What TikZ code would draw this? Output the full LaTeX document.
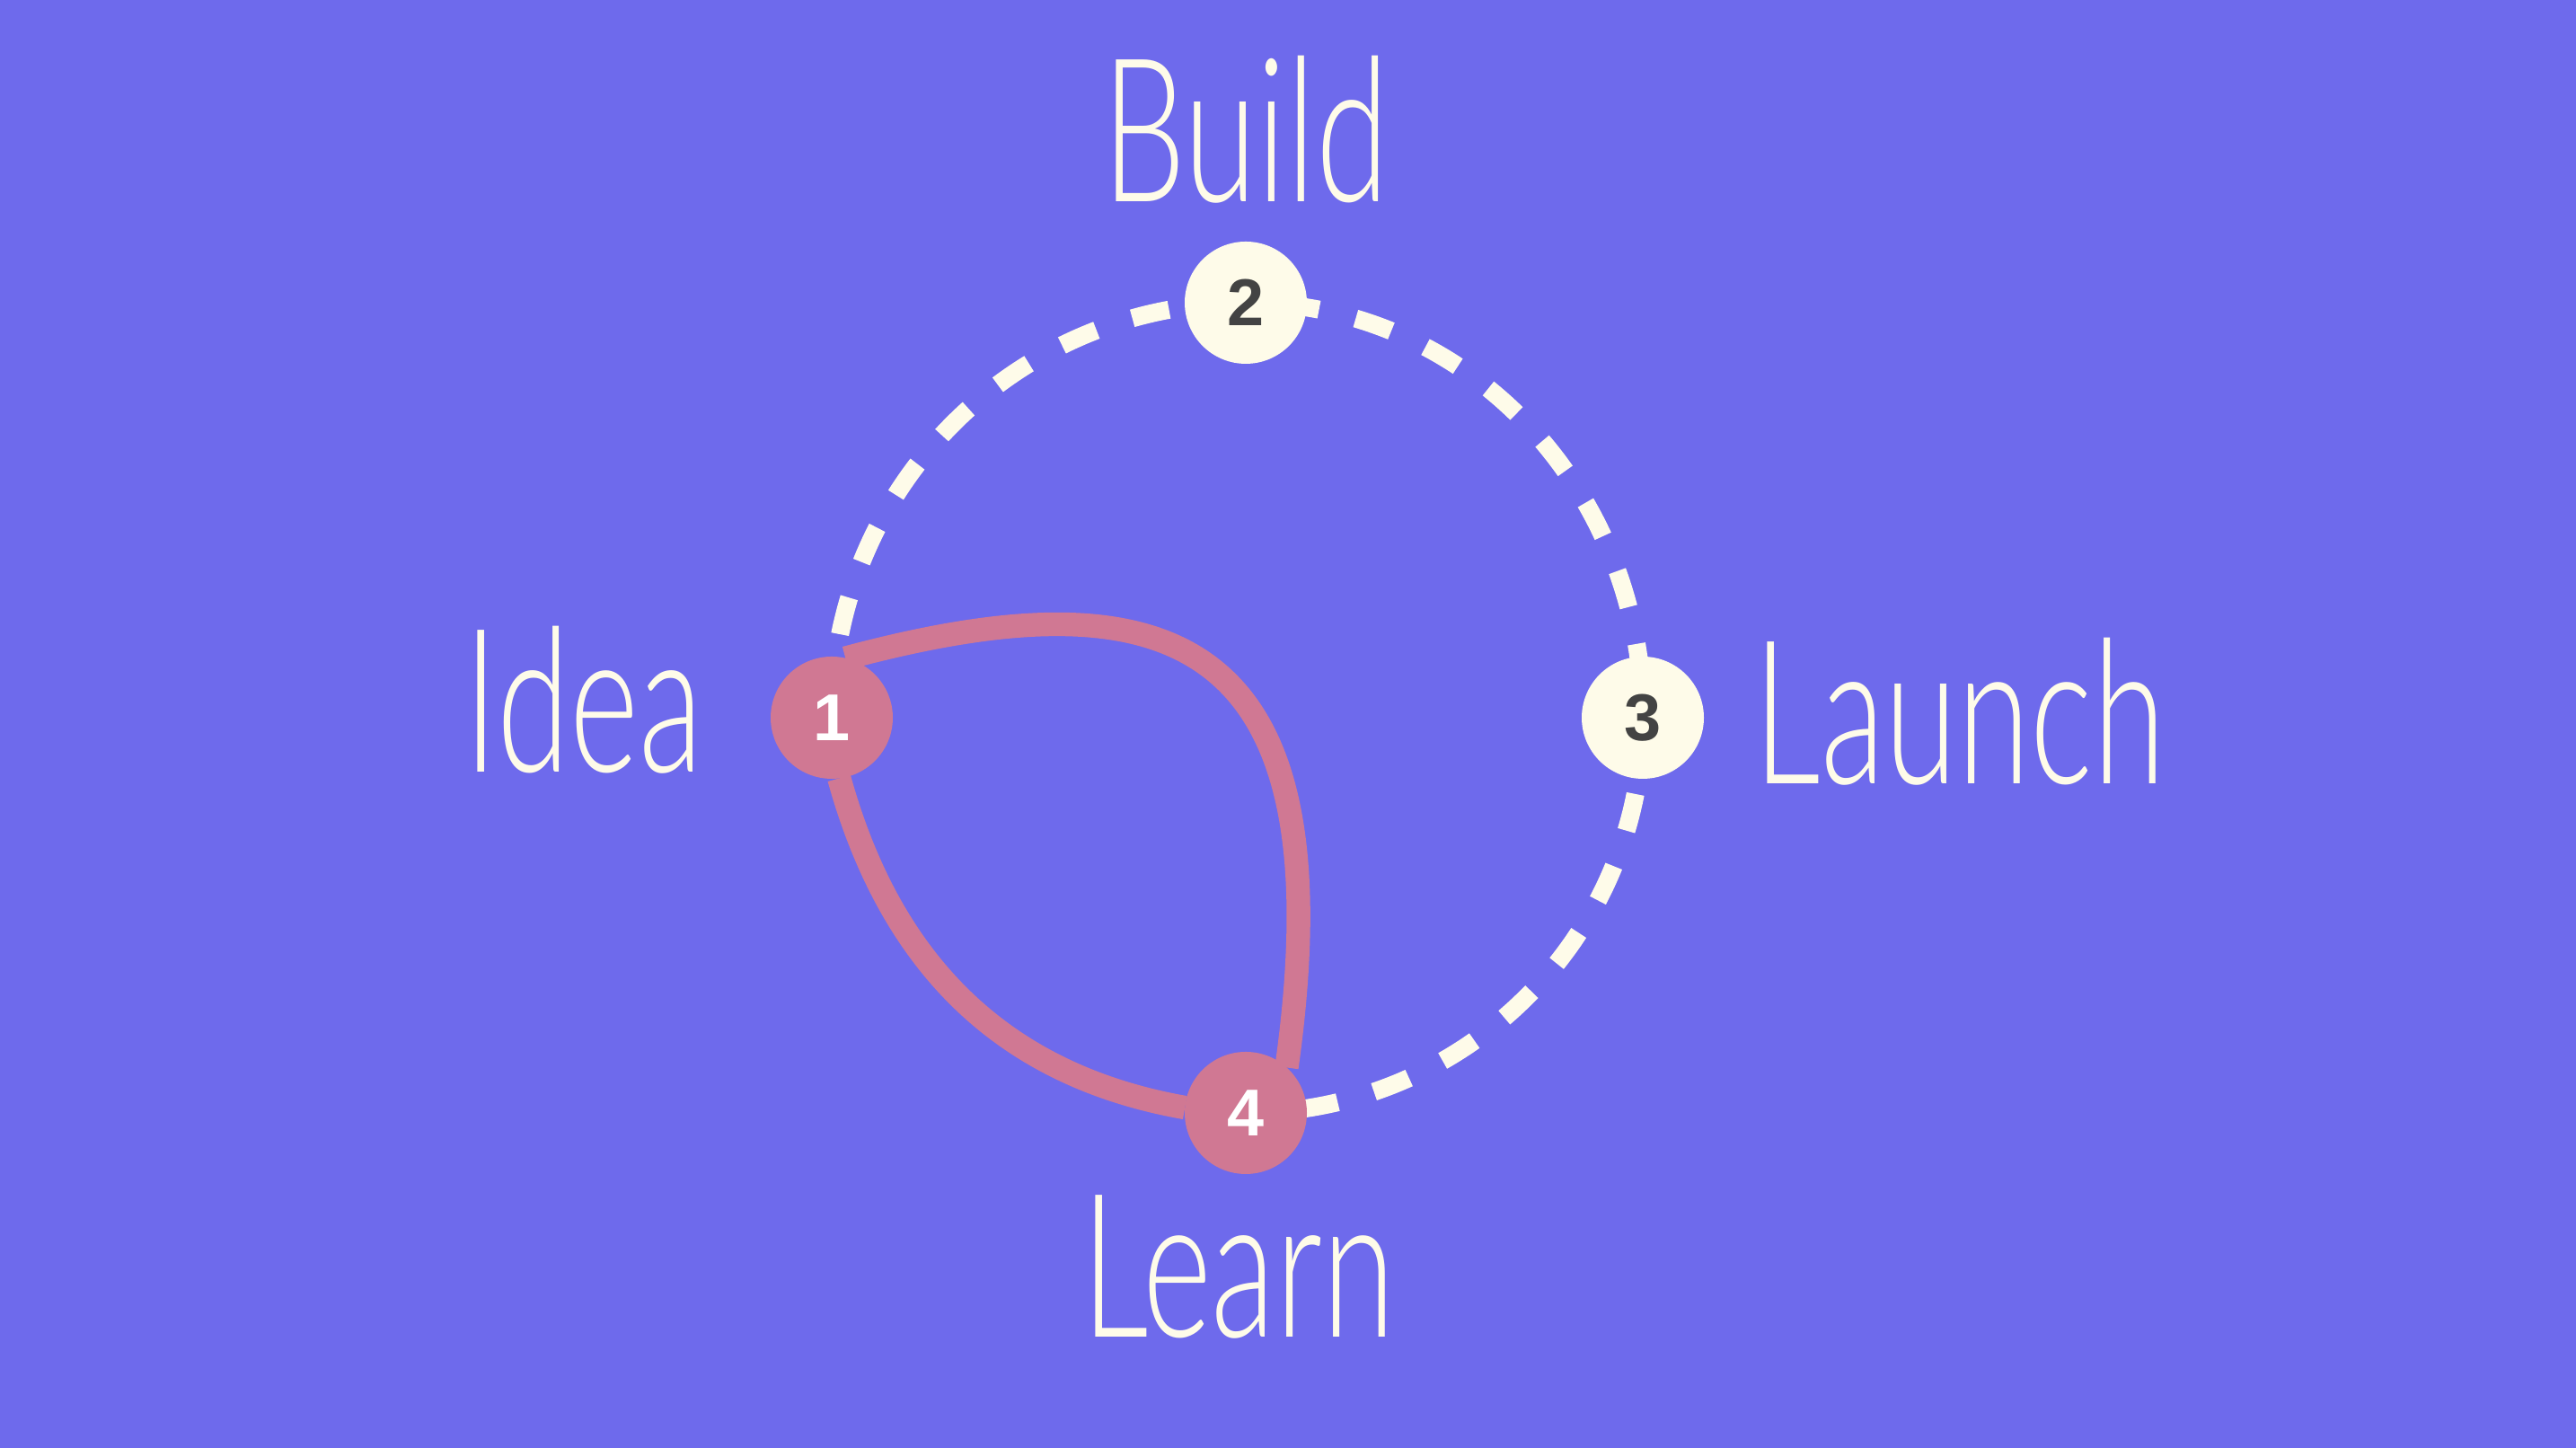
\documentclass[tikz,border=0pt]{standalone}
\usepackage{fontspec}
\setmainfont{Liberation Sans}
\newfontfamily\handfont[FakeStretch=0.66]{Lato Light}
\usetikzlibrary{positioning, backgrounds}

\definecolor{grundblau}{HTML}{6E6AEC}
\definecolor{rosa}{HTML}{D07893}
\definecolor{creme}{HTML}{FEFBE9}
\definecolor{dunkel}{HTML}{434343}

\begin{document}
\begin{tikzpicture}[
        punkt/.style = {circle, minimum size=1.36cm, inner sep=0pt, outer sep=0pt, font=\bfseries\fontsize{21}{21}\selectfont},
        hell/.style = {punkt, fill=creme, text=dunkel},
        rot/.style = {punkt, fill=rosa, text=white},
        wort/.style = {inner sep=0pt, text=creme, font=\handfont\fontsize{63.5}{64}\selectfont},
        kreislinie/.style = {draw=creme, line width=5.7pt, dash pattern=on 11.95pt off 11.95pt, dash phase=21.2pt},
        schleife/.style = {draw=rosa, line width=7.5pt}
    ]
    \useasboundingbox (0,0) rectangle (28.68,16.12);

    %Punkte
    \node (n1) at (9.26,8.13)   [rot]  {1};
    \node (n2) at (13.87,12.75) [hell] {2};
    \node (n3) at (18.29,8.13)  [hell] {3};
    \node (n4) at (13.87,3.73)  [rot]  {4};

    %Beschriftung
    \node (idee)   at (7.83,7.52)   [wort, anchor=base east] {Idea};
    \node (bauen)  at (13.87,13.87) [wort, anchor=base]      {Build};
    \node (start)  at (19.52,7.39)  [wort, anchor=base west] {Launch};
    \node (lernen) at (13.79,1.23)  [wort, anchor=base]      {Learn};

    %Linien
    \begin{scope}[on background layer]
        \fill[grundblau] (0,0) rectangle (28.68,16.12);
        \draw[kreislinie] (n1.center) to[out=90,in=180] (n2.center)
            to[out=0,in=90] (n3.center) to[out=-90,in=0] (n4.center);
        \draw[schleife] (n1.77) .. controls +(15:3.6) and +(82:5.0) .. (n4.48);
        \draw[schleife] (n4.175) .. controls +(170:2.1) and +(-74.5:2.1) .. (n1.-83);
    \end{scope}
\end{tikzpicture}
\end{document}
